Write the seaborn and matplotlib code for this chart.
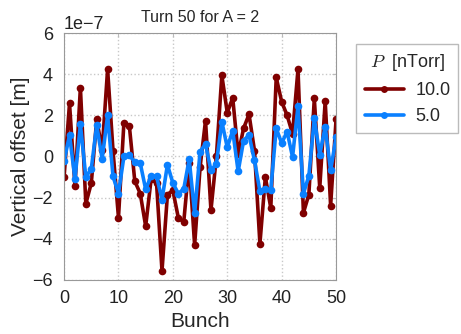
import numpy as np
import pandas as pd
import seaborn as sns
import matplotlib.pyplot as plt

# -----------------------------
# Data (units of 1e-7 m)
# -----------------------------
bunch = list(range(51))
offset_10 = [-1.0, 2.58, -1.45, 3.35, -2.3, -1.3, 1.8, 0.3, 4.24, 0.27,
             -2.97, 1.65, 1.48, -1.2, -1.8, -3.39, -1.1, -1.3, -5.56, -1.85,
             -1.65, -2.98, -3.18, -0.3, -4.32, -0.53, 1.74, -2.61, 0.0, 3.94,
             2.13, 2.85, 0.1, 1.37, 2.05, 0.29, -4.24, -1.0, -2.5, 3.84,
             2.66, 2.0, 1.1, 4.24, -2.74, -1.85, 2.82, -1.53, 2.69, -2.39,
             1.8]
offset_5 = [-0.24, 1.05, -1.1, 1.56, -1.0, -0.6, 1.53, -0.13, 2.0, -0.97,
            -1.8, 0.0, 0.08, -0.29, -0.32, -1.6, -0.94, -0.97, -2.1, -0.4,
            -1.29, -1.8, -1.58, -0.13, -2.77, 0.24, 0.61, -0.68, -0.35, 1.69,
            0.44, 1.26, -0.73, 0.77, 1.05, -0.19, -1.69, -1.58, -1.61, 1.37,
            0.65, 1.21, -0.03, 2.45, -1.8, -0.94, 1.85, 0.08, 1.45, -0.68,
            0.94]
pressures = ["10.0", "5.0"]
colors = ["#800000", "#0a80ff"]

df = pd.DataFrame({
    "Bunch": bunch * 2,
    "offset": np.array(offset_10 + offset_5) * 1e-7,
    "P": [pressures[0]] * len(bunch) + [pressures[1]] * len(bunch),
})

# -----------------------------
# Style
# -----------------------------
sns.set_style("white")
plt.rcParams['font.family'] = ['Liberation Sans', 'DejaVu Sans']
plt.rcParams['mathtext.fontset'] = 'cm'

fig = plt.figure(figsize=(4.61, 3.34), dpi=100)
ax = fig.add_axes([0.139, 0.162, 0.590, 0.739])

sns.lineplot(data=df, x="Bunch", y="offset", hue="P", hue_order=pressures,
             palette=colors, marker="o", markersize=5.5, markeredgewidth=0,
             linewidth=2.6, ax=ax)

ax.set_xlim(0, 50)
ax.set_ylim(-6e-7, 6e-7)
ax.set_xticks([0, 10, 20, 30, 40, 50])
ax.set_yticks(np.arange(-6, 7, 2) * 1e-7)
ax.ticklabel_format(axis='y', style='sci', scilimits=(0, 0))
ax.yaxis.get_offset_text().set_fontsize(13)
ax.yaxis.get_offset_text().set_color('#222222')
ax.grid(True, linestyle=':', color='#c8c8c8', linewidth=1)
for s in ax.spines.values():
    s.set_color('#999999')
ax.tick_params(labelsize=13, labelcolor='#222222', direction='in', length=3,
               top=True, right=True, bottom=False, left=False, color='#bbbbbb')
ax.tick_params(axis='x', pad=7)
ax.tick_params(axis='y', pad=8)

ax.set_title("Turn 50 for A = 2", fontsize=11.5, pad=8)
ax.set_xlabel("Bunch", fontsize=15, labelpad=4)
ax.set_ylabel("Vertical offset [m]", fontsize=15, labelpad=2)

leg = ax.legend(title="$P$  [nTorr]", loc="upper left",
                bbox_to_anchor=(1.075, 0.955), borderaxespad=0,
                fontsize=13, title_fontsize=13, frameon=True,
                fancybox=False, handlelength=2.2, handletextpad=0.6,
                borderpad=0.45)
leg.get_frame().set_edgecolor('#aaaaaa')
leg.get_frame().set_linewidth(1)
for line in leg.get_lines():
    line.set_linewidth(2.6)
    line.set_markersize(5)

plt.savefig("out.png", dpi=100)
plt.close()
